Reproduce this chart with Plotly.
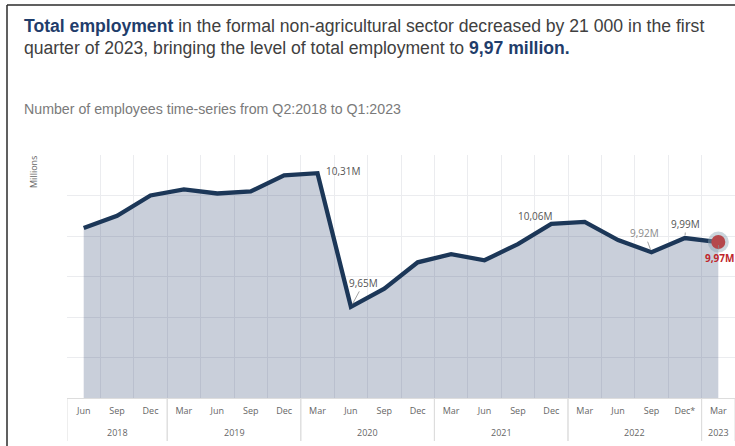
import plotly.graph_objects as go

# ---- data ----
years = ["2018"] * 3 + ["2019"] * 4 + ["2020"] * 4 + ["2021"] * 4 + ["2022"] * 4 + ["2023"]
months = ["Jun", "Sep", "Dec",
          "Mar", "Jun", "Sep", "Dec",
          "Mar", "Jun", "Sep", "Dec",
          "Mar", "Jun", "Sep", "Dec",
          "Mar", "Jun", "Sep", "Dec*",
          "Mar"]
employment = [10.04, 10.10, 10.20,
              10.23, 10.21, 10.22, 10.30,
              10.31, 9.65, 9.74, 9.87,
              9.91, 9.88, 9.96, 10.06,
              10.07, 9.98, 9.92, 9.99,
              9.97]
point_labels = {7: "10,31M", 8: "9,65M", 14: "10,06M", 17: "9,92M", 18: "9,99M", 19: "9,97M"}

title_line1_bold = "Total employment"
title_line1_rest = " in the formal non-agricultural sector decreased by 21 000 in the first"
title_line2_rest = "quarter of 2023, bringing the level of total employment to "
title_line2_bold = "9,97 million."
subtitle = "Number of employees time-series from Q2:2018 to Q1:2023"

# ---- layout geometry ----
W, H = 735, 446
ML, MR, MT, MB = 67, 0, 155, 48
PW, PH = W - ML - MR, H - MT - MB

def px(x):
    return (x - ML) / PW

def py(y):
    return (H - MB - y) / PH

NAVY = "#1c3758"
FILL = "rgba(30,55,100,0.24)"
GRID = "#ebecef"
TXT = "#404040"
AXF = "Open Sans, Noto Sans, sans-serif"

xpos = list(range(len(months)))

fig = go.Figure()
fig.add_trace(go.Scatter(
    x=xpos, y=employment, mode="lines", fill="tozeroy",
    fillcolor=FILL, line=dict(color=NAVY, width=4.3), hoverinfo="skip",
))
# highlighted last point (halo + red dot)
fig.add_trace(go.Scatter(
    x=[xpos[-1]], y=[employment[-1]], mode="markers",
    marker=dict(size=21, color="rgba(140,165,180,0.45)"), hoverinfo="skip",
))
fig.add_trace(go.Scatter(
    x=[xpos[-1]], y=[employment[-1]], mode="markers",
    marker=dict(size=14, color="#b5484c"), hoverinfo="skip",
))

lab_font = dict(family=AXF, size=10, color="#555555")
anns = []
styles = {
    7: dict(showarrow=False, xanchor="left", yanchor="middle", xshift=6, yshift=2),
    8: dict(showarrow=True, ax=13, ay=-24, xanchor="center", yanchor="middle"),
    14: dict(showarrow=False, xanchor="center", yanchor="middle", xshift=-16, yshift=8),
    17: dict(showarrow=True, ax=-7, ay=-19, xanchor="center", yanchor="middle"),
    18: dict(showarrow=True, ax=1, ay=-14, xanchor="center", yanchor="middle"),
    19: dict(showarrow=True, ax=1, ay=16, xanchor="center", yanchor="middle"),
}
for i, txt in point_labels.items():
    f = dict(lab_font)
    if i == 17:
        f["color"] = "#8a8a8a"
    if i == 19:
        f = dict(family=AXF, size=10, color="#c0262b")
        txt = "<b>" + txt + "</b>"
    a = dict(x=xpos[i], y=employment[i], xref="x", yref="y", text=txt, font=f,
             arrowhead=0, arrowwidth=0.8, arrowcolor="#8a8a8a", standoff=3)
    a.update(styles[i])
    anns.append(a)

# year group labels and dividers
groups = []
for i, yv in enumerate(years):
    if not groups or groups[-1][0] != yv:
        groups.append([yv, i, i])
    else:
        groups[-1][2] = i
for yv, i0, i1 in groups:
    anns.append(dict(x=(xpos[i0] + xpos[i1]) / 2, y=py(432), xref="x", yref="paper",
                     text=yv, showarrow=False, xanchor="center", yanchor="middle",
                     font=dict(family=AXF, size=9, color="#666666")))
    for b in (xpos[i0] - 0.5, xpos[i1] + 0.5):
        fig.add_shape(type="line", xref="x", yref="paper", x0=b, x1=b, y0=0, y1=py(441),
                      line=dict(color="#dddddd", width=1))

# titles
TF = "Liberation Sans, Arial, sans-serif"
anns.append(dict(xref="paper", yref="paper", x=px(22), y=py(26), xanchor="left", yanchor="middle",
                 showarrow=False, align="left",
                 text="<b><span style='color:#1f3d6b'>" + title_line1_bold + "</span></b>" + title_line1_rest,
                 font=dict(family=TF, size=17.6, color=TXT)))
anns.append(dict(xref="paper", yref="paper", x=px(22), y=py(48), xanchor="left", yanchor="middle",
                 showarrow=False, align="left",
                 text=title_line2_rest + "<b><span style='color:#1f3d6b'>" + title_line2_bold + "</span></b>",
                 font=dict(family=TF, size=17.6, color=TXT)))
anns.append(dict(xref="paper", yref="paper", x=px(22), y=py(109), xanchor="left", yanchor="middle",
                 showarrow=False, text=subtitle,
                 font=dict(family=TF, size=14.2, color="#7a7a7a")))
anns.append(dict(xref="paper", yref="paper", x=px(33), y=py(172), xanchor="center", yanchor="middle",
                 showarrow=False, text="Millions", textangle=-90,
                 font=dict(family=AXF, size=9, color="#666666")))
fig.update_layout(annotations=anns)

# outer frame
fig.add_shape(type="line", xref="paper", yref="paper", x0=px(7), x1=px(735), y0=py(5), y1=py(5),
              line=dict(color="#2b2b2b", width=1.5))
fig.add_shape(type="line", xref="paper", yref="paper", x0=px(7), x1=px(7), y0=py(5), y1=py(446),
              line=dict(color="#2b2b2b", width=1.5))

fig.update_xaxes(
    range=[-0.5, len(months) - 0.5], tickvals=xpos, ticktext=months, showgrid=False,
    minor=dict(tickvals=[v - 0.5 for v in xpos] + [xpos[-1] + 0.5], showgrid=True, gridcolor=GRID, ticks=""),
    showline=True, linecolor="#dddddd", ticks="", ticklabelstandoff=4, zeroline=False,
    tickfont=dict(family=AXF, size=9, color="#666666"),
)
fig.update_yaxes(range=[9.2, 10.4], dtick=0.2, showticklabels=False, showgrid=True,
                 gridcolor=GRID, zeroline=False)
fig.update_layout(
    width=W, height=H, margin=dict(l=ML, r=MR, t=MT, b=MB),
    plot_bgcolor="white", paper_bgcolor="white", showlegend=False,
)
fig.write_html("out.html")
